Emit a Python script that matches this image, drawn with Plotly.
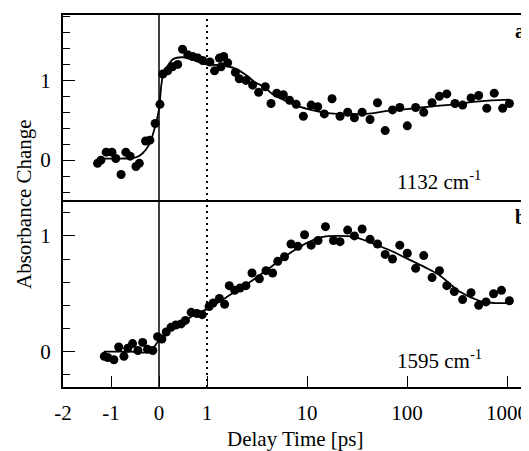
import numpy as np
import plotly.graph_objects as go

# Delay axis: linear from -2 to 1 ps, logarithmic above 1 ps
tick_t = [-2, -1, 0, 1, 10, 100, 1000]
tick_labels = ["-2", "-1", "0", "1", "10", "100", "1000"]

# panel a: 1132 cm-1
t_a = [-1.28, -1.21, -1.10, -0.98, -0.90, -0.79, -0.69, -0.60, -0.48, -0.41,
       -0.28, -0.19, -0.08, 0.02, 0.08, 0.18, 0.28, 0.39, 0.49, 0.60,
       0.70, 0.81, 0.91, 1.07, 1.19, 1.33, 1.38, 1.47, 1.61, 1.92,
       2.1, 2.45, 2.86, 3.28, 3.83, 4.37, 4.98, 5.8, 6.7, 7.8,
       9.2, 11.0, 12.8, 14.9, 17.8, 21.4, 25.5, 29.8, 35.6, 42.7,
       50.7, 60.5, 71.6, 84.7, 100.7, 122, 147, 178, 211, 250,
       302, 360, 437, 521, 628, 745, 905, 1057]
abs_a = [-0.04, 0.00, 0.10, 0.10, 0.02, -0.18, 0.10, 0.05, -0.08, -0.04,
         0.24, 0.25, 0.46, 0.70, 1.08, 1.12, 1.17, 1.20, 1.39, 1.32,
         1.30, 1.28, 1.25, 1.23, 1.12, 1.28, 1.17, 1.30, 1.22, 1.10,
         1.02, 1.00, 0.94, 0.85, 0.92, 0.71, 0.84, 0.82, 0.75, 0.70,
         0.55, 0.69, 0.67, 0.58, 0.77, 0.55, 0.60, 0.53, 0.60, 0.51,
         0.72, 0.37, 0.63, 0.66, 0.43, 0.66, 0.60, 0.72, 0.80, 0.83,
         0.71, 0.69, 0.78, 0.81, 0.65, 0.84, 0.65, 0.71]
fit_t_a = [-1.2, -0.8, -0.5, -0.35, -0.2, -0.1, 0.0, 0.05, 0.1, 0.2, 0.3, 0.5,
           0.7, 1.0, 1.4, 1.9, 2.5, 3.0, 3.8, 4.5, 6, 8.4, 11, 14.4, 20,
           24.5, 39, 66, 100, 180, 300, 457, 700, 1057]
fit_a = [0.02, 0.02, 0.03, 0.08, 0.20, 0.38, 0.64, 0.95, 1.10, 1.20, 1.27, 1.29,
         1.26, 1.20, 1.19, 1.15, 1.06, 0.98, 0.91, 0.83, 0.75, 0.67, 0.63, 0.60, 0.58,
         0.58, 0.58, 0.62, 0.64, 0.675, 0.70, 0.73, 0.75, 0.76]

# panel b: 1595 cm-1
t_b = [-1.14, -1.07, -0.94, -0.84, -0.73, -0.65, -0.55, -0.44, -0.34, -0.24,
       -0.13, -0.03, 0.06, 0.15, 0.25, 0.35, 0.46, 0.55, 0.67, 0.79,
       0.90, 1.05, 1.15, 1.33, 1.5, 1.67, 1.89, 2.14, 2.45, 2.82,
       3.34, 3.89, 4.53, 5.1, 5.96, 6.92, 8.1, 9.45, 11.0, 12.9,
       15.3, 18.4, 21.4, 25.5, 29.8, 35.6, 42.7, 50.7, 60.5, 71.6,
       84.7, 100.7, 122, 147, 178, 211, 250, 297, 360, 437,
       521, 617, 734, 880, 1057]
abs_b = [-0.04, -0.05, -0.07, 0.04, -0.04, 0.03, 0.07, 0.01, 0.08, 0.02,
         0.01, 0.13, 0.11, 0.17, 0.21, 0.23, 0.24, 0.27, 0.34, 0.33,
         0.32, 0.39, 0.42, 0.46, 0.41, 0.57, 0.53, 0.55, 0.57, 0.68,
         0.63, 0.70, 0.68, 0.78, 0.82, 0.93, 0.91, 1.01, 0.92, 0.96,
         1.08, 0.96, 0.95, 1.05, 1.00, 1.06, 0.97, 0.93, 0.84, 0.80,
         0.92, 0.85, 0.72, 0.83, 0.64, 0.70, 0.57, 0.52, 0.45, 0.51,
         0.40, 0.43, 0.50, 0.53, 0.44]
fit_t_b = [-1.15, -0.6, -0.2, 0.0, 0.2, 0.5, 0.8, 1.0, 1.5, 2, 3, 5, 7, 10, 14,
           20, 30, 47, 70, 97, 150, 211, 335, 530, 750, 1000]
fit_b = [0.0, 0.0, 0.0, 0.10, 0.18, 0.26, 0.33, 0.37, 0.46, 0.53, 0.63, 0.77, 0.86,
         0.94, 0.99, 1.0, 0.99, 0.93, 0.87, 0.81, 0.73, 0.66, 0.52, 0.44, 0.42, 0.42]

DEC = 100 / 48  # one decade is as wide as ~2.08 linear ps


def tx(t):
    t = np.asarray(t, dtype=float)
    return np.where(t <= 1, t, 1 + np.log10(np.maximum(t, 1)) * DEC)


font = "Liberation Serif"
fig = go.Figure()

mk = dict(color="black", size=9)
fig.add_trace(go.Scatter(x=tx(t_a), y=abs_a, mode="markers", marker=mk,
                         xaxis="x2", yaxis="y2"))
fig.add_trace(go.Scatter(x=tx(fit_t_a), y=fit_a, mode="lines",
                         line=dict(color="black", width=1.8, shape="spline"),
                         xaxis="x2", yaxis="y2"))
fig.add_trace(go.Scatter(x=tx(t_b), y=abs_b, mode="markers", marker=mk))
fig.add_trace(go.Scatter(x=tx(fit_t_b), y=fit_b, mode="lines",
                         line=dict(color="black", width=1.8, shape="spline")))

# page body adds an 8px offset, so the figure is 8px smaller than the window
W, H = 521, 443
ML, MT, MB = 55, 7, 64
PW, PH = W - ML, H - MT - MB
xr = [-2, -2 + PW / 48]
ticktx = [float(v) for v in tx(tick_t)]
split = 187 / PH

fig.update_layout(
    width=W, height=H,
    margin=dict(l=ML, r=0, t=MT, b=MB),
    plot_bgcolor="white", paper_bgcolor="white",
    showlegend=False,
    font=dict(family=font, size=21, color="black"),
    xaxis=dict(range=xr, tickvals=ticktx, ticktext=tick_labels,
               ticks="inside", ticklen=11, tickwidth=1.2, tickcolor="black",
               ticklabelstandoff=6,
               showline=True, linecolor="black", linewidth=2,
               showgrid=False, zeroline=False, anchor="y"),
    xaxis2=dict(range=xr, matches="x", showticklabels=False, ticks="",
                showline=True, mirror=True, linecolor="black", linewidth=2,
                showgrid=False, zeroline=False, anchor="y2"),
    yaxis=dict(domain=[0, split], range=[-0.305, 1.31], tickvals=[0, 1],
               ticks="inside", ticklen=12, tickcolor="black",
               ticklabelstandoff=6,
               minor=dict(dtick=0.2, tick0=0, ticks="inside", ticklen=7,
                          tickcolor="black"),
               showline=True, linecolor="black", linewidth=2,
               showgrid=False, zeroline=False),
    yaxis2=dict(domain=[split, 1], range=[-0.5, 1.82], tickvals=[0, 1],
                ticks="inside", ticklen=12, tickcolor="black",
                ticklabelstandoff=6,
                minor=dict(dtick=0.2, tick0=0, ticks="inside", ticklen=7,
                           tickcolor="black"),
                showline=True, linecolor="black", linewidth=2,
                showgrid=False, zeroline=False, anchor="x2"),
)

# markers for time zero and the start of the log scale
fig.add_shape(type="line", xref="x", yref="paper", x0=0, x1=0, y0=0, y1=1,
              line=dict(color="black", width=1.5))
fig.add_shape(type="line", xref="x", yref="paper", x0=1, x1=1, y0=0, y1=1,
              line=dict(color="black", width=2, dash="2px,4px"))


def px(fx):
    return (fx - ML) / PW


def py(fy):
    return (MT + PH - fy) / PH


def label(text, fx, fy, size=21, angle=0):
    fig.add_annotation(text=text, xref="paper", yref="paper", x=px(fx), y=py(fy),
                       xanchor="center", yanchor="middle", textangle=angle,
                       showarrow=False, font=dict(size=size))


label("Absorbance Change", 16, 196, angle=-90)
label("Delay Time [ps]", 287, 431)
label("<b>a</b>", 512, 23, size=20)
label("<b>b</b>", 512, 209, size=20)
label("1132 cm<sup>-1</sup>", 431, 172)
label("1595 cm<sup>-1</sup>", 431, 351)

fig.write_html("out.html")
